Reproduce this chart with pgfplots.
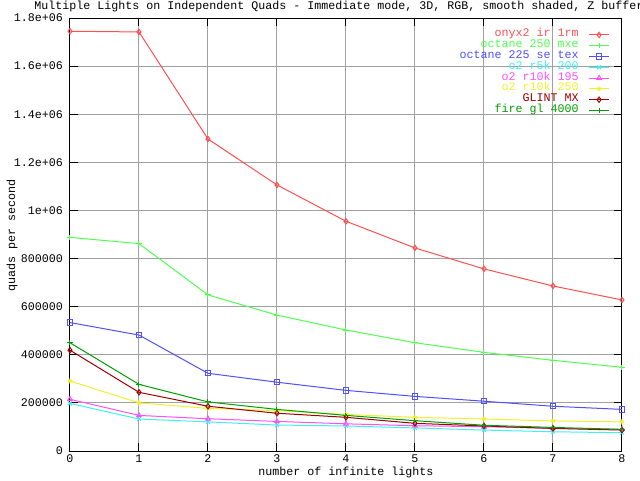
\documentclass[border=0pt]{standalone}
\usepackage{fontspec}
\setmainfont{Liberation Mono}
\usepackage{pgfplots}
\pgfplotsset{compat=1.18}

\definecolor{conyx}{HTML}{FF5050}
\definecolor{coctA}{HTML}{50FF50}
\definecolor{coctB}{HTML}{5050FF}
\definecolor{ccyan}{HTML}{40F0F0}
\definecolor{cmag}{HTML}{FF50FF}
\definecolor{cyel}{HTML}{F0F030}
\definecolor{cglint}{HTML}{A00000}
\definecolor{cfire}{HTML}{00A000}
\definecolor{gridgray}{HTML}{A0A0A0}

\newcommand{\gfont}{\fontsize{8.75}{10}\selectfont}

\begin{document}
\gfont
\begin{tikzpicture}[x=1pt,y=1pt]
\useasboundingbox (0,0) rectangle (480,360);
\begin{axis}[
  at={(52.5pt,21.75pt)}, anchor=south west,
  scale only axis, width=414pt, height=324.75pt,
  xmin=0, xmax=8, ymin=0, ymax=1800000,
  xtick={0,1,2,3,4,5,6,7,8},
  xticklabels={0,1,2,3,4,5,6,7,8},
  ytick={0,200000,400000,600000,800000,1000000,1200000,1400000,1600000,1800000},
  yticklabels={0,200000,400000,600000,800000,1e+06,1.2e+06,1.4e+06,1.6e+06,1.8e+06},
  scaled y ticks=false,
  grid=major,
  major grid style={color=gridgray, line width=0.75pt},
  axis line style={line width=0.75pt},
  tick style={black, line width=0.75pt},
  major tick length=6pt, tick align=inside,
  every tick label/.append style={font=\gfont},
  yticklabel style={xshift=-2.3pt},
  every axis plot/.append style={line width=0.75pt, mark size=2pt,
    mark options={solid, line width=0.75pt}},
  legend plot pos=right,
  legend cell align=right,
  legend style={draw=none, fill=none, font=\gfont,
    at={(0.978,0.974)}, anchor=north east, inner sep=0pt,
    row sep=0pt, column sep=7.5pt,
    nodes={inner sep=0pt, text height=5.5pt, text depth=2.6pt}},
  legend image code/.code={
    \draw[#1, mark=none] (0pt,0pt) -- (15pt,0pt);
    \draw[#1, only marks] plot coordinates {(7.5pt,0pt)};},
]
% onyx2 ir 1rm
\addplot[color=conyx, mark=diamond] coordinates {
  (0,1745000) (1,1742000) (2,1297000) (3,1106000) (4,955000)
  (5,844000) (6,757000) (7,686000) (8,628000)};
\addlegendentry{\textcolor{conyx}{onyx2 ir 1rm}}
% octane 250 mxe
\addplot[color=coctA, mark=+] coordinates {
  (0,888000) (1,862000) (2,649000) (3,565000) (4,503000)
  (5,450000) (6,410000) (7,377000) (8,348000)};
\addlegendentry{\textcolor{coctA}{octane 250 mxe}}
% octane 225 se tex
\addplot[color=coctB, mark=square] coordinates {
  (0,534000) (1,482000) (2,323000) (3,286000) (4,252000)
  (5,227000) (6,207000) (7,186000) (8,173000)};
\addlegendentry{\textcolor{coctB}{octane 225 se tex}}
% o2 r5k 200
\addplot[color=ccyan, mark=x] coordinates {
  (0,198000) (1,133000) (2,121000) (3,108000) (4,104000)
  (5,96000) (6,87000) (7,80000) (8,76000)};
\addlegendentry{\textcolor{ccyan}{o2 r5k 200}}
% o2 r10k 195
\addplot[color=cmag, mark=triangle] coordinates {
  (0,215000) (1,148000) (2,134000) (3,123000) (4,113000)
  (5,105000) (6,101000) (7,94000) (8,90000)};
\addlegendentry{\textcolor{cmag}{o2 r10k 195}}
% o2 r10k 250
\addplot[color=cyel, mark=asterisk] coordinates {
  (0,291000) (1,200000) (2,177000) (3,168000) (4,152000)
  (5,140000) (6,133000) (7,125000) (8,121000)};
\addlegendentry{\textcolor{cyel}{o2 r10k 250}}
% GLINT MX
\addplot[color=cglint, mark=diamond] coordinates {
  (0,419000) (1,244000) (2,186000) (3,157000) (4,140000)
  (5,115000) (6,104000) (7,94000) (8,87000)};
\addlegendentry{\textcolor{cglint}{GLINT MX}}
% fire gl 4000
\addplot[color=cfire, mark=+] coordinates {
  (0,450000) (1,277000) (2,204000) (3,173000) (4,148000)
  (5,126000) (6,107000) (7,98000) (8,90000)};
\addlegendentry{\textcolor{cfire}{fire gl 4000}}
\end{axis}
\node[anchor=base] at (259.5,352.5)
  {Multiple Lights on Independent Quads - Immediate mode, 3D, RGB, smooth shaded, Z buffered};
\node at (259.5,6) {number of infinite lights};
\node[rotate=90] at (9,183.75) {quads per second};
\end{tikzpicture}
\end{document}
